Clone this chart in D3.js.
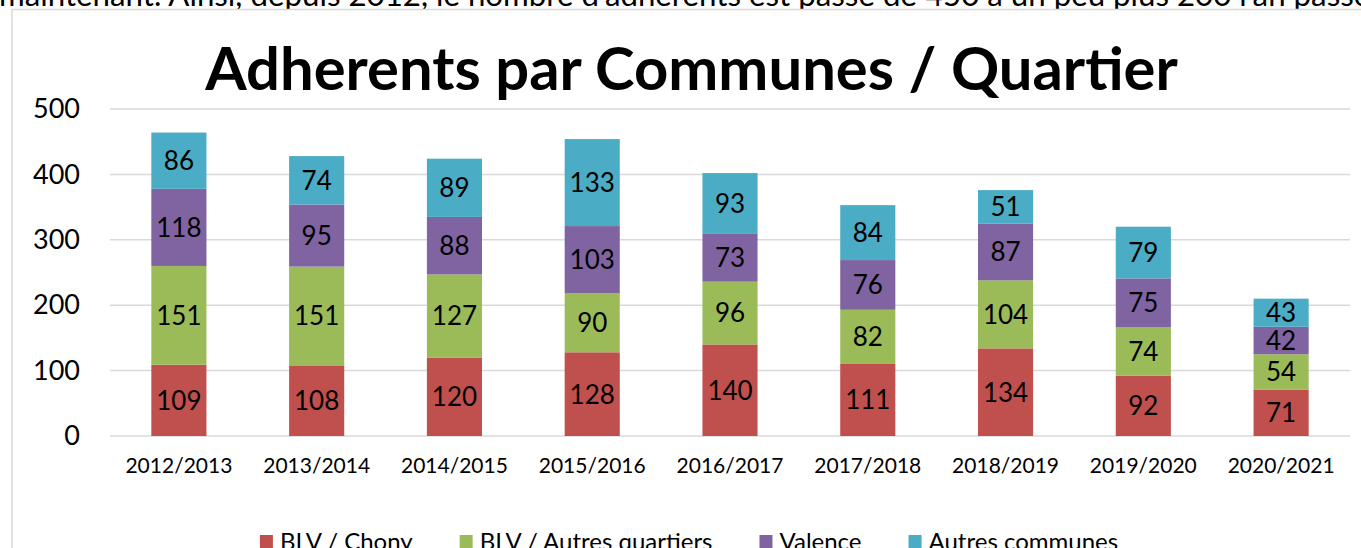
<!DOCTYPE html>
<html>
<head>
<meta charset="utf-8">
<script src="https://cdn.jsdelivr.net/npm/d3@7"></script>
<style>
  html, body { margin: 0; padding: 0; background: #fff; overflow: hidden; }
  svg { display: block; font-family: Lato, "Open Sans", sans-serif; }
</style>
</head>
<body>
<svg id="chart" width="1361" height="548"></svg>
<script>
// categories (school years)
var years = ["2012/2013", "2013/2014", "2014/2015", "2015/2016", "2016/2017",
             "2017/2018", "2018/2019", "2019/2020", "2020/2021"];

// one array per series, bottom to top
var blvChony   = [109, 108, 120, 128, 140, 111, 134, 92, 71];
var blvAutres  = [151, 151, 127, 90, 96, 82, 104, 74, 54];
var valence    = [118, 95, 88, 103, 73, 76, 87, 75, 42];
var autresComm = [86, 74, 89, 133, 93, 84, 51, 79, 43];

var seriesNames = ["BLV / Chony", "BLV / Autres quartiers", "Valence", "Autres communes"];
var seriesColors = ["#C0504D", "#9BBB59", "#8064A2", "#4BACC6"];
var yTicks = [0, 100, 200, 300, 400, 500];

var title = "Adherents par Communes / Quartier";
var topText = "maintenant. Ainsi, depuis 2012, le nombre d'adhérents est passé de 450 à un peu plus 200 l'an passé";

// build rows for d3.stack
var seriesData = [blvChony, blvAutres, valence, autresComm];
var rows = years.map(function(y, i) {
  var r = {year: y};
  seriesNames.forEach(function(n, k) { r[n] = seriesData[k][i]; });
  return r;
});
var stacked = d3.stack().keys(seriesNames)(rows);

var svg = d3.select("#chart");

// plot box
var plot = {left: 110, right: 1350, top: 109, bottom: 436};

var x = d3.scaleBand()
    .domain(years)
    .range([plot.left, plot.right])
    .paddingInner(0.6)
    .paddingOuter(0.3);

var y = d3.scaleLinear()
    .domain([0, 500])
    .range([plot.bottom, plot.top]);

var color = d3.scaleOrdinal().domain(seriesNames).range(seriesColors);

// helper: scale font-size so a text spans a given width
function fitWidth(sel, target) {
  var w = sel.node().getComputedTextLength();
  var fs = parseFloat(sel.attr("font-size"));
  sel.attr("font-size", fs * target / w);
}

// cut-off paragraph text above the chart
var tt = svg.append("text")
    .attr("x", -1)
    .attr("y", 6)
    .attr("font-family", "Lato, sans-serif")
    .attr("font-size", 24)
    .attr("fill", "#000")
    .text(topText);
fitWidth(tt, 1372);

// chart area border
svg.append("rect")
    .attr("x", 12)
    .attr("y", 9.5)
    .attr("width", 1400)
    .attr("height", 600)
    .attr("fill", "#fff")
    .attr("stroke", "#d9d9d9")
    .attr("stroke-width", 1.5);

// title
var t = svg.append("text")
    .attr("x", 691.5)
    .attr("y", 90)
    .attr("text-anchor", "middle")
    .attr("font-weight", "bold")
    .attr("font-size", 50)
    .attr("fill", "#000")
    .text(title);
fitWidth(t, 973);

// gridlines
svg.append("g")
  .selectAll("line")
  .data(yTicks)
  .join("line")
    .attr("x1", plot.left)
    .attr("x2", plot.right)
    .attr("y1", d => y(d))
    .attr("y2", d => y(d))
    .attr("stroke", "#d9d9d9")
    .attr("stroke-width", 1.5);

// y axis labels
var yAxis = g => g
    .attr("transform", "translate(" + 80 + ",0)")
    .call(d3.axisLeft(y).tickValues(yTicks).tickSize(0).tickPadding(0))
    .call(g => g.select(".domain").remove())
    .call(g => g.selectAll("text")
        .attr("font-family", "Lato, sans-serif")
        .attr("font-size", 27)
        .attr("fill", "#000"));
svg.append("g").call(yAxis);

// bars
var layer = svg.append("g")
  .selectAll("g")
  .data(stacked)
  .join("g")
    .attr("fill", d => color(d.key));

layer.selectAll("rect")
  .data(d => d)
  .join("rect")
    .attr("x", d => x(d.data.year))
    .attr("width", x.bandwidth())
    .attr("y", d => y(d[1]))
    .attr("height", d => y(d[0]) - y(d[1]));

// data labels
var labels = svg.append("g")
  .selectAll("g")
  .data(stacked)
  .join("g");

labels.selectAll("text")
  .data(d => d.map(p => ({p: p, v: p[1] - p[0]})))
  .join("text")
    .attr("x", d => x(d.p.data.year) + x.bandwidth() / 2)
    .attr("y", d => (y(d.p[0]) + y(d.p[1])) / 2)
    .attr("dy", "0.36em")
    .attr("text-anchor", "middle")
    .attr("font-size", 26)
    .attr("fill", "#000")
    .text(d => d.v);

// x axis labels
var xAxis = g => g
    .attr("transform", "translate(0," + plot.bottom + ")")
    .call(d3.axisBottom(x).tickSize(0).tickPadding(22))
    .call(g => g.select(".domain").remove())
    .call(g => g.selectAll("text")
        .attr("font-family", "Lato, sans-serif")
        .attr("font-size", 21)
        .attr("fill", "#000"));
svg.append("g").call(xAxis);

// legend
var legend = svg.append("g").attr("class", "legend");
var item = legend.selectAll("g")
  .data(seriesNames)
  .join("g");
item.append("rect")
    .attr("y", 535)
    .attr("width", 13)
    .attr("height", 13)
    .attr("fill", d => color(d));
item.append("text")
    .attr("x", 20)
    .attr("y", 550)
    .attr("font-size", 24)
    .attr("fill", "#000")
    .text(d => d);

var pos = 0, offsets = [];
item.each(function() {
  offsets.push(pos);
  var w = d3.select(this).select("text").node().getComputedTextLength();
  pos += 20 + w + 47;
});
var total = pos - 47;
var start = 689 - total / 2;
item.attr("transform", (d, i) => "translate(" + (start + offsets[i]) + ",0)");
</script>
</body>
</html>
